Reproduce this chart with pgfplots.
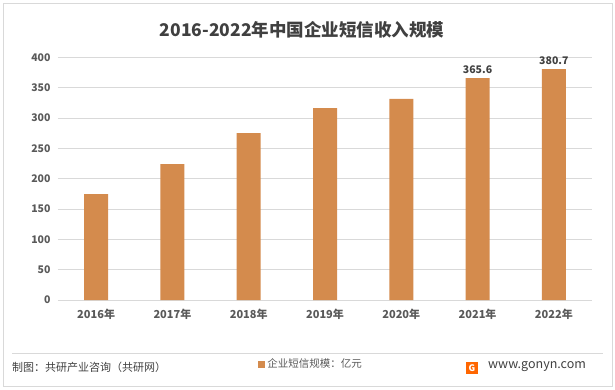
\documentclass[border=0pt]{standalone}
\usepackage{pgfplots}
\pgfplotsset{compat=1.18}
\usepackage{fontspec}
\setmainfont{Noto Sans CJK SC}
\definecolor{barc}{HTML}{D48B4D}
\definecolor{txt}{HTML}{595959}
\definecolor{dtxt}{HTML}{404040}
\definecolor{gridc}{HTML}{D9D9D9}
\begin{document}
\begin{tikzpicture}[x=1pt,y=1pt]
\path[use as bounding box] (0,0) rectangle (615,389);
\draw[color=gridc,line width=0.8pt] (3,3) rectangle (612,386);
\node[font=\fontsize{17.5}{20}\selectfont\bfseries,text=dtxt] at (302,359) {2016-2022年中国企业短信收入规模};
\begin{axis}[
  at={(58pt,89pt)}, anchor=south west,
  scale only axis, width=534pt, height=242.7pt,
  ybar, bar width=24pt,
  xmin=-0.5, xmax=6.5, ymin=0, ymax=400,
  ytick={0,50,...,400},
  xtick={0,...,6},
  xticklabels={2016年,2017年,2018年,2019年,2020年,2021年,2022年},
  axis y line*=left,
  axis x line*=bottom,
  y axis line style={draw=none},
  x axis line style={gridc,line width=0.8pt},
  axis line style={-},
  ymajorgrids, grid style={gridc,line width=0.8pt},
  major tick length=0pt,
  tick style={draw=none},
  yticklabel style={font=\fontsize{10.5}{12}\selectfont\bfseries,text=txt,xshift=-4pt},
  xticklabel style={font=\fontsize{11}{13}\selectfont\bfseries,text=txt,yshift=-6pt},
  /pgf/number format/assume math mode=true,
  point meta=explicit symbolic,
  nodes near coords,
  every node near coord/.append style={font=\fontsize{10.5}{12}\selectfont\bfseries,text=dtxt,yshift=1pt},
  legend style={at={(0.474,-0.264)},anchor=center,draw=none,fill=none,
    font=\fontsize{10.5}{12}\selectfont,text=txt,inner sep=0pt},
  legend image code/.code={\fill[barc] (0pt,-3.5pt) rectangle (7pt,3.5pt);},
]
\addplot[fill=barc,draw=none] coordinates {
 (0,174.7) [] (1,224.1) [] (2,275.2) [] (3,316.4) [] (4,331.3) [] (5,365.6) [365.6] (6,380.7) [380.7]
};
\addlegendentry{企业短信规模：亿元}
\end{axis}
\draw[color=gridc,line width=0.8pt] (12,36) -- (603,36);
\node[anchor=west,font=\fontsize{11}{13}\selectfont,text=dtxt,inner sep=0pt] at (12,22) {制图：共研产业咨询（共研网）};
\fill[orange!80!red] (466,15) rectangle (478,27);
\node[font=\fontsize{9}{10}\selectfont\bfseries,text=white] at (472,21) {G};
\node[anchor=west,font=\fontsize{12.5}{14}\selectfont,text=dtxt,inner sep=0pt] at (488,22) {www.gonyn.com};
\end{tikzpicture}
\end{document}
